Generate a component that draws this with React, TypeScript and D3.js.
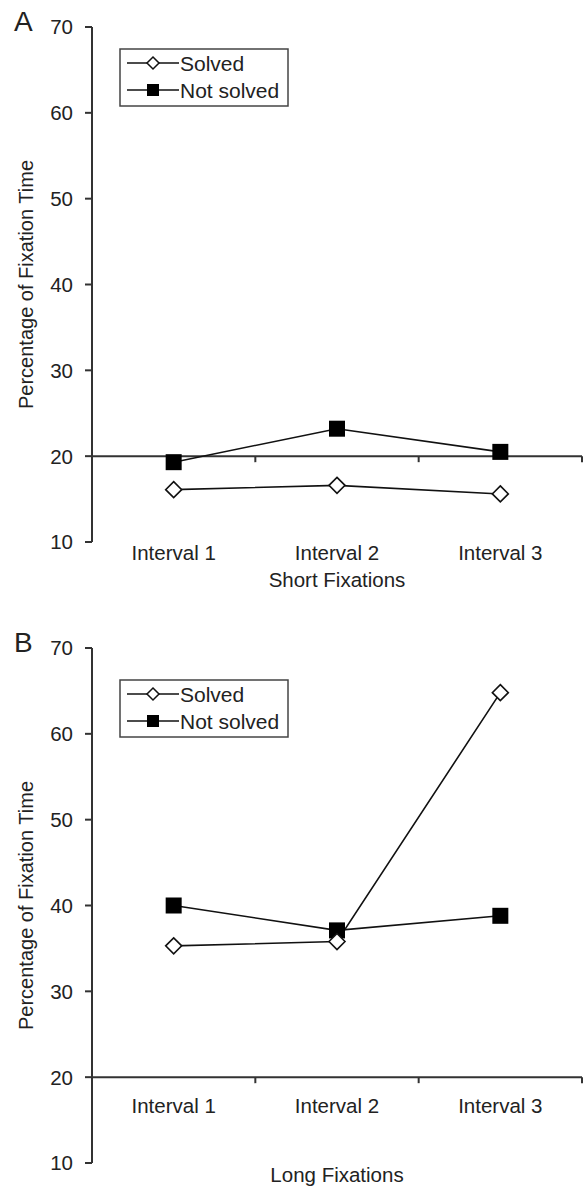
import React from "react";
import * as d3 from "d3";

const intervals = ["Interval 1", "Interval 2", "Interval 3"];
const yTicks = [10, 20, 30, 40, 50, 60, 70];
const seriesNames = ["Solved", "Not solved"];

// Panel A: short fixations
const shortSolved = [16.1, 16.6, 15.6];
const shortNotSolved = [19.3, 23.2, 20.5];

// Panel B: long fixations
const longSolved = [35.3, 35.8, 64.8];
const longNotSolved = [40.0, 37.1, 38.8];

const W = 588;
const H = 1189;
const FONT = "'Liberation Sans', Arial, Helvetica, sans-serif";
const AXIS = "#333";

type PanelProps = {
  letter: string;
  top: number;
  solved: number[];
  notSolved: number[];
  title: string;
  labelY: number;
  titleY: number;
  legendTop: number;
};

const diamond = (cx: number, cy: number, r: number) =>
  `M${cx},${cy - r}L${cx + r},${cy}L${cx},${cy + r}L${cx - r},${cy}Z`;

const Panel = ({ letter, top, solved, notSolved, title, labelY, titleY, legendTop }: PanelProps) => {
  const left = 92;
  const right = 582;
  const y = d3.scaleLinear().domain([10, 70]).range([top + 515, top]);
  const x = d3.scaleBand().domain(intervals).range([left, right]);
  const cx = (d: string) => (x(d) ?? 0) + x.bandwidth() / 2;
  const axisY = y(20);

  const line = d3
    .line<number>()
    .x((_, i) => cx(intervals[i]))
    .y((d) => y(d));

  const labelMid = (y(70) + y(10)) / 2;
  const legX = 120;
  const legY = top + legendTop;

  return (
    <g fontFamily={FONT} fill="#222">
      <text x={14} y={top + 4} fontSize={28} fill="#222">
        {letter}
      </text>

      {/* y axis */}
      <line x1={left} x2={left} y1={y(70)} y2={y(10)} stroke={AXIS} strokeWidth={2} />
      {yTicks.map((t) => (
        <g key={t}>
          <line x1={left - 7} x2={left} y1={y(t)} y2={y(t)} stroke={AXIS} strokeWidth={2} />
          <text x={73} y={y(t)} dy="0.36em" textAnchor="end" fontSize={20.5}>
            {t}
          </text>
        </g>
      ))}
      <text
        transform={`translate(26,${labelMid}) rotate(-90)`}
        textAnchor="middle"
        dy="0.36em"
        fontSize={20}
      >
        Percentage of Fixation Time
      </text>

      {/* x axis at 20 */}
      <line x1={left} x2={right} y1={axisY} y2={axisY} stroke={AXIS} strokeWidth={2} />
      {intervals.map((d) => (
        <line
          key={d}
          x1={(x(d) ?? 0) + x.bandwidth()}
          x2={(x(d) ?? 0) + x.bandwidth()}
          y1={axisY}
          y2={axisY + 6}
          stroke={AXIS}
          strokeWidth={2}
        />
      ))}
      {intervals.map((d) => (
        <text key={d} x={cx(d)} y={labelY} dy="0.36em" textAnchor="middle" fontSize={20.5}>
          {d}
        </text>
      ))}
      <text x={cx(intervals[1])} y={titleY} dy="0.36em" textAnchor="middle" fontSize={20.5}>
        {title}
      </text>

      {/* series */}
      <path d={line(notSolved) ?? ""} fill="none" stroke="#111" strokeWidth={1.6} />
      <path d={line(solved) ?? ""} fill="none" stroke="#111" strokeWidth={1.6} />
      {notSolved.map((v, i) => (
        <rect
          key={"n" + i}
          x={cx(intervals[i]) - 8}
          y={y(v) - 8}
          width={16}
          height={16}
          fill="#000"
        />
      ))}
      {solved.map((v, i) => (
        <path
          key={"s" + i}
          d={diamond(cx(intervals[i]), y(v), 8)}
          fill="#fff"
          stroke="#111"
          strokeWidth={1.6}
        />
      ))}

      {/* legend */}
      <rect
        x={legX}
        y={legY}
        width={168}
        height={57}
        fill="#fff"
        stroke="#444"
        strokeWidth={1.5}
      />
      {seriesNames.map((name, i) => {
        const ly = legY + 14 + i * 27;
        return (
          <g key={name}>
            <line x1={legX + 7} x2={legX + 59} y1={ly} y2={ly} stroke="#111" strokeWidth={1.6} />
            {i === 0 ? (
              <path d={diamond(legX + 33, ly, 6)} fill="#fff" stroke="#111" strokeWidth={1.5} />
            ) : (
              <rect x={legX + 27} y={ly - 6} width={12} height={12} fill="#000" />
            )}
            <text x={legX + 60} y={ly} dy="0.36em" fontSize={21}>
              {name}
            </text>
          </g>
        );
      })}
    </g>
  );
};

export default function App() {
  return (
    <svg
      width={W}
      height={H}
      style={{ position: "absolute", left: 0, top: 0, background: "#fff" }}
    >
      <Panel
        letter="A"
        top={27}
        solved={shortSolved}
        notSolved={shortNotSolved}
        title="Short Fixations"
        labelY={553}
        titleY={580}
        legendTop={22}
      />
      <Panel
        letter="B"
        top={648}
        solved={longSolved}
        notSolved={longNotSolved}
        title="Long Fixations"
        labelY={1106}
        titleY={1175}
        legendTop={32}
      />
    </svg>
  );
}
